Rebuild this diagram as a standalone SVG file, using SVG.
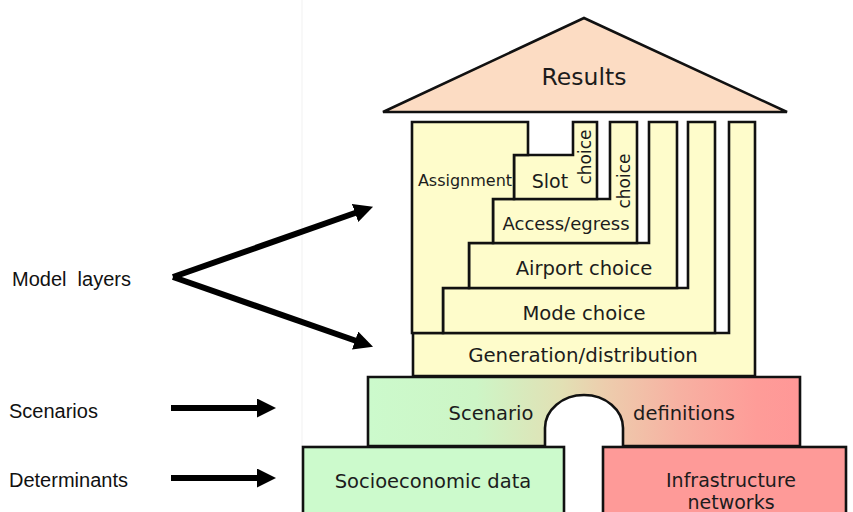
<svg xmlns="http://www.w3.org/2000/svg" width="853" height="512" viewBox="0 0 853 512">
<style>
.layer{fill:#FEFCCB;stroke:#111;stroke-width:2.6;stroke-linejoin:miter}
.t{font-family:"DejaVu Sans",Verdana,sans-serif;fill:#1c1c1c;text-anchor:middle}
.lbl{font-family:"Liberation Sans",Arial,sans-serif;font-size:20px;fill:#111}
.arr{stroke:#000;stroke-width:6;fill:none}
</style>
<defs>
<marker id="ah" viewBox="0 0 19 19" refX="9" refY="9.5" markerWidth="19" markerHeight="19" markerUnits="userSpaceOnUse" orient="auto">
<path d="M0,0 L19,9.5 L0,19 Z" fill="#000"/>
</marker>
<linearGradient id="scen" gradientUnits="userSpaceOnUse" x1="368" y1="0" x2="800" y2="0">
<stop offset="0" stop-color="#CCFACC"/>
<stop offset="0.25" stop-color="#CDF5C6"/>
<stop offset="0.45" stop-color="#E2E0B4"/>
<stop offset="0.55" stop-color="#EDCDAD"/>
<stop offset="0.72" stop-color="#F7B1A2"/>
<stop offset="0.9" stop-color="#FE9C98"/>
<stop offset="1" stop-color="#FF9797"/>
</linearGradient>
</defs>
<rect width="853" height="512" fill="#fff"/>
<line x1="302" y1="0" x2="302" y2="447" stroke="#f1f1f1" stroke-width="1"/>

<g id="roof">
<polygon points="584,18 383,112 787,112" fill="#FCDCC3" stroke="#111" stroke-width="2.6" stroke-linejoin="miter"/>
<text class="t" x="584" y="85" font-size="23.5">Results</text>
</g>

<g id="generation">
<polygon class="layer" points="413,333 729,333 729,122 755,122 755,376 413,376"/>
<text class="t" x="583" y="362" font-size="19.8">Generation/distribution</text>
</g>
<g id="mode">
<polygon class="layer" points="443,288 688,288 688,122 715,122 715,333 443,333"/>
<text class="t" x="584" y="320" font-size="19.6">Mode choice</text>
</g>
<g id="airport">
<polygon class="layer" points="469,243 649,243 649,122 677,122 677,288 469,288"/>
<text class="t" x="584" y="275" font-size="19.6">Airport choice</text>
</g>
<g id="access">
<polygon class="layer" points="493,199 610,199 610,122 637,122 637,243 493,243"/>
<text class="t" x="566" y="230" font-size="18">Access/egress</text>
<text class="t" x="0" y="0" font-size="17" transform="translate(630,181) rotate(-90)">choice</text>
</g>
<g id="slot">
<polygon class="layer" points="514,155 573,155 573,122 597,122 597,199 514,199"/>
<text class="t" x="550" y="188" font-size="19">Slot</text>
<text class="t" x="0" y="0" font-size="17" transform="translate(591,157) rotate(-90)">choice</text>
</g>
<g id="assignment">
<polygon class="layer" points="412,122 528,122 528,155 514,155 514,199 493,199 493,243 469,243 469,288 443,288 443,333 412,333"/>
<text class="t" x="465" y="186" font-size="16">Assignment</text>
</g>

<g id="scenario">
<path d="M368,377 H800 V446 H623 V428 A39,33 0 0 0 545,428 V446 H368 Z" fill="url(#scen)" stroke="#111" stroke-width="2.6"/>
<text class="t" x="491" y="420" font-size="19.5">Scenario</text>
<text class="t" x="684" y="420" font-size="19.5">definitions</text>
</g>
<g id="socioeconomic">
<rect x="303" y="447" width="261" height="80" fill="#CCFACC" stroke="#111" stroke-width="2.6"/>
<text class="t" x="433" y="488" font-size="19.5">Socioeconomic data</text>
</g>
<g id="infrastructure">
<rect x="603" y="447" width="243" height="80" fill="#FE9A98" stroke="#111" stroke-width="2.6"/>
<text class="t" x="731" y="487" font-size="19">Infrastructure</text>
<text class="t" x="731" y="509" font-size="19">networks</text>
</g>

<g id="labels">
<text class="lbl" x="12" y="286">Model&#160; layers</text>
<text class="lbl" x="9" y="418">Scenarios</text>
<text class="lbl" x="9" y="487">Determinants</text>
</g>

<g id="connectors">
<line class="arr" x1="173" y1="277" x2="363.6" y2="210" marker-end="url(#ah)"/>
<line class="arr" x1="173" y1="277" x2="363.6" y2="343.5" marker-end="url(#ah)"/>
<line class="arr" x1="171" y1="408" x2="266" y2="408" marker-end="url(#ah)"/>
<line class="arr" x1="171" y1="478" x2="266" y2="478" marker-end="url(#ah)"/>
</g>
</svg>
